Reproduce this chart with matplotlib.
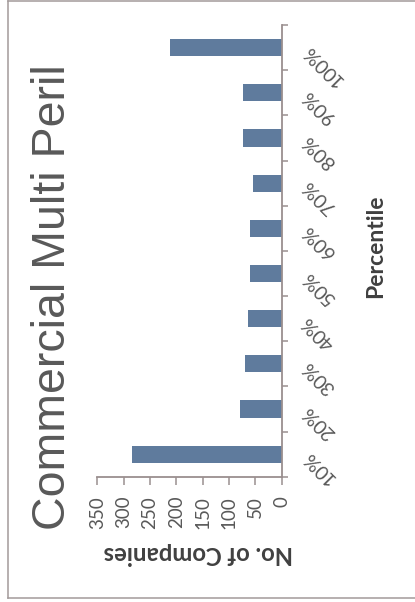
import matplotlib
matplotlib.use('Agg')
from matplotlib import pyplot as plt
from matplotlib.lines import Line2D
import numpy as np

# Companies per percentile bucket
percentiles = ['10%', '20%', '30%', '40%', '50%', '60%', '70%', '80%', '90%', '100%']
companies = [285, 80, 70, 64, 61, 61, 55, 74, 74, 212]
count_ticks = [0, 50, 100, 150, 200, 250, 300, 350]

W, H = 415, 602
BAR_COLOR = '#5f7b9d'
AXIS_COLOR = '#9a8f8f'
TEXT_COLOR = '#595959'

plt.rcParams['font.family'] = ['Lato', 'DejaVu Sans']

fig = plt.figure(figsize=(W / 100, H / 100), dpi=100)
ax = fig.add_axes([97.3 / W, 1 - 476.7 / H, 184.4 / W, 451.7 / H])

pos = np.arange(len(percentiles))
ax.barh(pos, companies, height=0.38, color=BAR_COLOR)

# counts run right to left, percentile axis sits on the right
ax.set_xlim(max(count_ticks), 0)
ax.set_ylim(-0.5, len(percentiles) - 0.5)

for side in ['left', 'top']:
    ax.spines[side].set_visible(False)
for side in ['right', 'bottom']:
    ax.spines[side].set_color(AXIS_COLOR)
    ax.spines[side].set_linewidth(1.3)

ax.set_xticks(count_ticks)
ax.set_xticklabels([str(v) for v in count_ticks])
ax.tick_params(axis='x', direction='out', length=5.8, width=1.1, color=AXIS_COLOR,
               labelrotation=90, labelsize=13.5, labelcolor=TEXT_COLOR, pad=8)

ax.yaxis.tick_right()
ax.set_yticks(np.arange(-0.5, len(percentiles), 1))
ax.set_yticklabels([])
ax.set_yticks(pos, minor=True)
ax.set_yticklabels(percentiles, minor=True, rotation=135, ha='right', va='center',
                   rotation_mode='anchor')
ax.tick_params(axis='y', which='major', direction='out', length=4.3, width=1.1,
               color=AXIS_COLOR)
ax.tick_params(axis='y', which='minor', length=0, pad=17, labelsize=14,
               labelcolor=TEXT_COLOR)

fig.text(65 / W, 1 - 297 / H, 'Commercial Multi Peril', rotation=90,
         rotation_mode='anchor', ha='center', va='baseline',
         family='Liberation Sans', fontsize=33.5, color=TEXT_COLOR)
fig.text(198.5 / W, 1 - 553 / H, 'No. of Companies', rotation=180,
         ha='center', va='center', fontsize=17.2, fontweight='bold', color='#404040')
fig.text(375.5 / W, 1 - 246.5 / H, 'Percentile', rotation=90,
         ha='center', va='center', fontsize=16.5, fontweight='bold', color='#404040')

# chart frame: left, top and bottom edges
frame = dict(transform=fig.transFigure, color='#a39a9a', linewidth=1.1)
x0, y_top, y_bot = 8.3 / W, 1 - 0.6 / H, 1 - 597.7 / H
fig.add_artist(Line2D([x0, x0], [y_bot, y_top], **frame))
fig.add_artist(Line2D([x0, 1.0], [y_top, y_top], **frame))
fig.add_artist(Line2D([x0, 1.0], [y_bot, y_bot], **frame))

fig.savefig('out.png', dpi=100)
